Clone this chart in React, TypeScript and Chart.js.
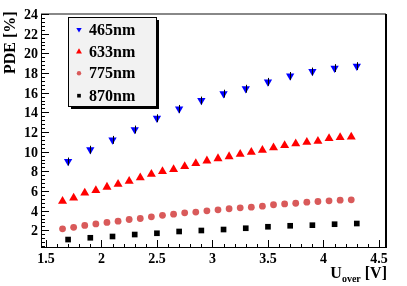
import React, { useEffect, useRef } from "react";
import { Chart, registerables } from "chart.js";

Chart.register(...registerables);

// ---- data ----
const xBlue = [1.7, 1.9, 2.1, 2.3, 2.5, 2.7, 2.9, 3.1, 3.3, 3.5, 3.7, 3.9, 4.1, 4.3];
const pde465 = [9.0, 10.2, 11.2, 12.25, 13.4, 14.35, 15.2, 15.9, 16.4, 17.1, 17.7, 18.15, 18.5, 18.7];
const err465 = [0.4, 0.4, 0.4, 0.4, 0.4, 0.4, 0.4, 0.4, 0.4, 0.4, 0.4, 0.4, 0.4, 0.4];

const xRed = [1.65, 1.75, 1.85, 1.95, 2.05, 2.15, 2.25, 2.35, 2.45, 2.55, 2.65, 2.75, 2.85, 2.95, 3.05, 3.15, 3.25, 3.35, 3.45, 3.55, 3.65, 3.75, 3.85, 3.95, 4.05, 4.15, 4.25];
const pde633 = [4.96, 5.3, 5.8, 6.05, 6.4, 6.7, 7.0, 7.35, 7.7, 7.98, 8.2, 8.5, 8.8, 9.07, 9.3, 9.5, 9.74, 9.95, 10.15, 10.4, 10.63, 10.82, 10.96, 11.06, 11.34, 11.44, 11.5];
const pde775 = [2.15, 2.3, 2.5, 2.65, 2.8, 2.93, 3.1, 3.2, 3.37, 3.52, 3.64, 3.78, 3.85, 3.98, 4.08, 4.19, 4.29, 4.35, 4.45, 4.6, 4.68, 4.75, 4.86, 4.93, 5.0, 5.06, 5.1];
const pde870 = [1.06, 1.24, 1.37, 1.57, 1.7, 1.88, 1.98, 2.08, 2.21, 2.36, 2.46, 2.52, 2.62, 2.69];

const seriesNames = ["465nm", "633nm", "775nm", "870nm"];
const xTicks = [1.5, 2, 2.5, 3, 3.5, 4, 4.5];
const yTicks = [2, 4, 6, 8, 10, 12, 14, 16, 18, 20, 22, 24];
const xRange = [1.456, 4.563];
const yRange = [0.2, 24];

const FONT = "bold 14px 'Liberation Serif', 'DejaVu Serif', serif";
const FONT_BIG = "bold 16px 'Liberation Serif', 'DejaVu Serif', serif";

function drawMarker(ctx: CanvasRenderingContext2D, style: string, rotation: number, r: number, x: number, y: number) {
  ctx.beginPath();
  if (style === "triangle") {
    let rad = (rotation * Math.PI) / 180;
    for (let k = 0; k < 3; k++) {
      const px = x + Math.sin(rad) * r;
      const py = y - Math.cos(rad) * r;
      if (k === 0) ctx.moveTo(px, py);
      else ctx.lineTo(px, py);
      rad += (2 * Math.PI) / 3;
    }
    ctx.closePath();
  } else if (style === "rect") {
    const s = Math.SQRT1_2 * r;
    ctx.rect(x - s, y - s, 2 * s, 2 * s);
  } else {
    ctx.arc(x, y, r, 0, Math.PI * 2);
  }
  ctx.fill();
}

const rootPlugin = {
  id: "rootDecor",
  afterDatasetsDraw(chart: any) {
    const ctx = chart.ctx as CanvasRenderingContext2D;
    const { left, right, top, bottom } = chart.chartArea;
    const xs = chart.scales.x;
    const ys = chart.scales.y;
    ctx.save();

    // error bars for 465nm
    ctx.strokeStyle = "#000";
    ctx.lineWidth = 1;
    xBlue.forEach((x, i) => {
      const px = Math.round(xs.getPixelForValue(x)) + 0.5;
      const y1 = ys.getPixelForValue(pde465[i] - err465[i]);
      const y2 = ys.getPixelForValue(pde465[i] + err465[i]);
      ctx.beginPath();
      ctx.moveTo(px, y1);
      ctx.lineTo(px, y2);
      ctx.stroke();
    });

    // frame
    ctx.strokeStyle = "#888";
    ctx.lineWidth = 2;
    ctx.beginPath();
    ctx.moveTo(left, top);
    ctx.lineTo(right, top);
    ctx.stroke();
    ctx.strokeStyle = "#000";
    ctx.beginPath();
    ctx.moveTo(right, top);
    ctx.lineTo(right, bottom);
    ctx.stroke();
    ctx.lineWidth = 1;
    ctx.beginPath();
    ctx.moveTo(Math.round(left) + 0.5, top);
    ctx.lineTo(Math.round(left) + 0.5, bottom);
    ctx.moveTo(left, Math.round(bottom) - 0.5);
    ctx.lineTo(right, Math.round(bottom) - 0.5);
    ctx.stroke();

    // x ticks (minor every 0.1, major every 0.5)
    ctx.beginPath();
    for (let k = 0; k <= 30; k++) {
      const v = 1.5 + k * 0.1;
      const px = Math.round(xs.getPixelForValue(v)) + 0.5;
      const len = k % 5 === 0 ? 8 : 4;
      ctx.moveTo(px, bottom);
      ctx.lineTo(px, bottom - len);
    }
    // y ticks (minor every 0.4, major every 2)
    for (let k = 1; k <= 60; k++) {
      const v = k * 0.4;
      if (v < yRange[0]) continue;
      const py = Math.round(ys.getPixelForValue(v)) + 0.5;
      const len = k % 5 === 0 ? 8 : 4;
      ctx.moveTo(left, py);
      ctx.lineTo(left + len, py);
    }
    ctx.stroke();

    // tick labels
    ctx.fillStyle = "#000";
    ctx.font = FONT;
    ctx.textAlign = "center";
    ctx.textBaseline = "alphabetic";
    xTicks.forEach((v) => {
      ctx.fillText(String(v), xs.getPixelForValue(v), 263);
    });
    ctx.textAlign = "right";
    yTicks.forEach((v) => {
      ctx.fillText(String(v), 38, ys.getPixelForValue(v) + 5);
    });

    // y title
    ctx.save();
    ctx.translate(14.5, 74);
    ctx.rotate(-Math.PI / 2);
    ctx.textAlign = "left";
    ctx.textBaseline = "alphabetic";
    ctx.font = FONT_BIG;
    ctx.fillText("PDE [%]", 0, 0);
    ctx.restore();

    // x title: U_over [V]
    ctx.textAlign = "left";
    const sub = "bold 10px 'Liberation Serif', 'DejaVu Serif', serif";
    ctx.font = FONT_BIG;
    const wU = ctx.measureText("U").width;
    const wV = ctx.measureText(" [V]").width;
    ctx.font = sub;
    const wO = ctx.measureText("over").width;
    const xEnd = right + 1;
    const x0 = xEnd - wU - wO - wV;
    ctx.font = FONT_BIG;
    ctx.fillText("U", x0, 278);
    ctx.font = sub;
    ctx.fillText("over", x0 + wU, 282);
    ctx.font = FONT_BIG;
    ctx.fillText(" [V]", x0 + wU + wO, 278);

    // legend box
    const bx = 68, by = 17, bw = 88, bh = 89;
    ctx.fillStyle = "#000";
    ctx.fillRect(bx + 3, by + 3, bw, bh);
    ctx.fillStyle = "#f2f2f2";
    ctx.fillRect(bx, by, bw, bh);
    ctx.strokeStyle = "#000";
    ctx.lineWidth = 1;
    ctx.strokeRect(bx + 0.5, by + 0.5, bw, bh);
    const rowsY = [29.5, 51.7, 73.3, 95.7];
    chart.data.datasets.forEach((ds: any, i: number) => {
      ctx.fillStyle = ds.backgroundColor;
      drawMarker(ctx, ds.pointStyle, ds.rotation || 0, ds.pointRadius * 0.65, 79, rowsY[i]);
      ctx.fillStyle = "#000";
      ctx.font = FONT_BIG;
      ctx.textAlign = "left";
      ctx.textBaseline = "middle";
      ctx.fillText(seriesNames[i], 89, rowsY[i] + 1);
    });
    ctx.restore();
  },
};

export default function App() {
  const ref = useRef<HTMLCanvasElement | null>(null);
  useEffect(() => {
    if (!ref.current) return;
    const mk = (xsArr: number[], ysArr: number[]) => xsArr.map((x, i) => ({ x, y: ysArr[i] }));
    const chart = new Chart(ref.current, {
      type: "scatter",
      data: {
        datasets: [
          { label: seriesNames[0], data: mk(xBlue, pde465), pointStyle: "triangle", rotation: 180, pointRadius: 4.8, pointBorderWidth: 0, backgroundColor: "#0000ff", borderColor: "#0000ff" } as any,
          { label: seriesNames[1], data: mk(xRed, pde633), pointStyle: "triangle", pointRadius: 5.2, pointBorderWidth: 0, backgroundColor: "#ff0000", borderColor: "#ff0000" } as any,
          { label: seriesNames[2], data: mk(xRed, pde775), pointStyle: "circle", pointRadius: 3.4, pointBorderWidth: 0, backgroundColor: "#d95a5a", borderColor: "#d95a5a" } as any,
          { label: seriesNames[3], data: mk(xBlue, pde870), pointStyle: "rect", pointRadius: 4, pointBorderWidth: 0, backgroundColor: "#000000", borderColor: "#000000" } as any,
        ],
      },
      options: {
        responsive: false,
        animation: false,
        layout: { padding: { left: 41, right: 21, top: 14, bottom: 38 } },
        plugins: { legend: { display: false }, tooltip: { enabled: false } },
        scales: {
          x: { type: "linear", min: xRange[0], max: xRange[1], display: false },
          y: { type: "linear", min: yRange[0], max: yRange[1], display: false },
        },
      },
      plugins: [rootPlugin],
    });
    return () => chart.destroy();
  }, []);
  return (
    <div style={{ position: "fixed", left: 0, top: 0, width: 407, height: 286, background: "#fff" }}>
      <canvas ref={ref} width={407} height={286} style={{ width: 407, height: 286, display: "block" }} />
    </div>
  );
}
